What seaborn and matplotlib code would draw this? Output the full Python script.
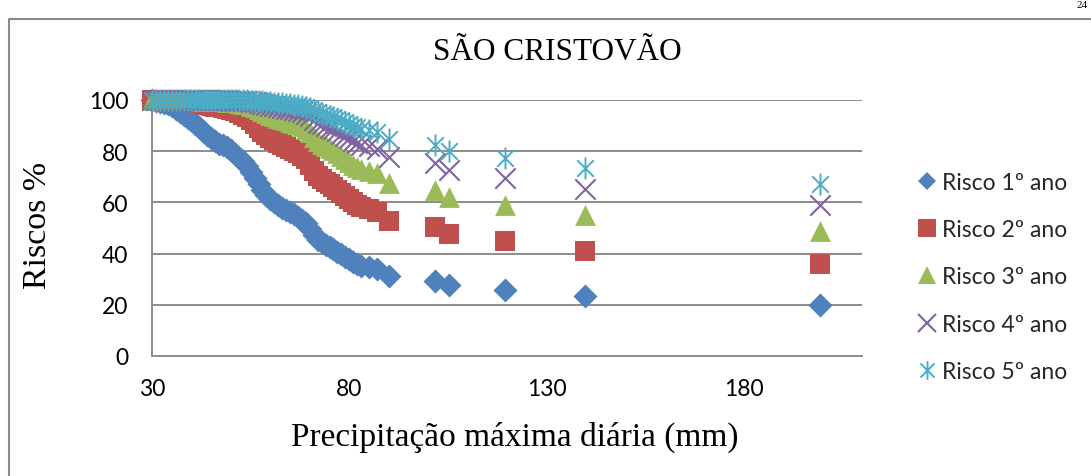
import matplotlib
matplotlib.use("Agg")
import matplotlib.pyplot as plt
from matplotlib.path import Path
from matplotlib.lines import Line2D
import numpy as np
import pandas as pd
import seaborn as sns

# Precipitação máxima diária (mm)
precip = [30, 31, 32, 33, 34, 35, 36, 37, 38, 39, 40, 41, 42, 43, 44, 45, 46, 47, 48, 49,
          50, 51, 52, 53, 54, 55, 56, 57, 58, 59, 60, 61, 62, 63, 64, 65, 66, 67, 68, 69,
          70, 71, 72, 73, 74, 75, 76, 77, 78, 79, 80, 81, 82, 83, 85, 87, 90,
          101.8, 105.4, 119.6, 139.7, 199.3]

# Riscos (%) para 1 a 5 anos
risco_1 = [99.9, 99.7, 99.4, 99.0, 98.4, 97.6, 96.6, 95.4, 94.2, 93.0, 92.0, 90.8, 89.5, 88.0,
           86.4, 85.0, 83.8, 83.0, 82.3, 81.5, 80.3, 79.0, 77.5, 76.0, 74.3, 72.0, 69.5, 67.0,
           64.8, 63.0, 61.5, 60.3, 59.0, 58.0, 57.0, 56.2, 55.3, 54.4, 53.3, 51.8, 49.8, 47.3,
           45.5, 44.5, 43.5, 42.6, 41.8, 40.8, 39.8, 38.8, 37.8, 36.8, 36.0, 35.3, 34.8, 34.0,
           31.3, 29.4, 27.6, 25.7, 23.3, 20.0]
risco_2 = [100.0, 100.0, 100.0, 100.0, 100.0, 99.9, 99.9, 99.8, 99.7, 99.5, 99.4, 99.2, 98.9,
           98.6, 98.2, 97.8, 97.4, 97.1, 96.9, 96.6, 96.1, 95.6, 94.9, 94.2, 93.4, 92.2, 90.7,
           89.1, 87.6, 86.3, 85.2, 84.2, 83.2, 82.4, 81.5, 80.8, 80.0, 79.2, 78.2, 76.8, 74.8,
           72.2, 70.3, 69.2, 68.1, 67.1, 66.1, 65.0, 63.8, 62.6, 61.3, 60.1, 59.0, 58.1, 57.5,
           56.4, 52.8, 50.2, 47.6, 44.8, 41.2, 36.0]
risco_3 = [100.0, 100.0, 100.0, 100.0, 100.0, 100.0, 100.0, 100.0, 100.0, 100.0, 99.9, 99.9,
           99.9, 99.8, 99.8, 99.7, 99.6, 99.5, 99.5, 99.4, 99.2, 99.1, 98.9, 98.6, 98.3, 97.8,
           97.2, 96.4, 95.6, 94.9, 94.3, 93.7, 93.1, 92.6, 92.1, 91.6, 91.1, 90.5, 89.8, 88.8,
           87.4, 85.4, 83.8, 82.9, 82.0, 81.1, 80.3, 79.3, 78.2, 77.1, 75.9, 74.8, 73.8, 72.9,
           72.3, 71.3, 67.6, 64.8, 62.1, 59.0, 54.9, 48.8]
risco_4 = [100.0, 100.0, 100.0, 100.0, 100.0, 100.0, 100.0, 100.0, 100.0, 100.0, 100.0, 100.0,
           100.0, 100.0, 100.0, 99.9, 99.9, 99.9, 99.9, 99.9, 99.8, 99.8, 99.7, 99.7, 99.6, 99.4,
           99.1, 98.8, 98.5, 98.1, 97.8, 97.5, 97.2, 96.9, 96.6, 96.3, 96.0, 95.7, 95.2, 94.6,
           93.7, 92.3, 91.2, 90.5, 89.8, 89.1, 88.5, 87.7, 86.9, 86.0, 85.0, 84.1, 83.2, 82.5,
           81.9, 81.0, 77.7, 75.2, 72.5, 69.5, 65.4, 59.0]
risco_5 = [100.0, 100.0, 100.0, 100.0, 100.0, 100.0, 100.0, 100.0, 100.0, 100.0, 100.0, 100.0,
           100.0, 100.0, 100.0, 100.0, 100.0, 100.0, 100.0, 100.0, 100.0, 100.0, 99.9, 99.9,
           99.9, 99.8, 99.7, 99.6, 99.5, 99.3, 99.2, 99.0, 98.8, 98.7, 98.5, 98.4, 98.2, 98.0,
           97.8, 97.4, 96.8, 95.9, 95.2, 94.7, 94.2, 93.8, 93.3, 92.7, 92.1, 91.4, 90.7, 89.9,
           89.3, 88.7, 88.2, 87.5, 84.7, 82.5, 80.1, 77.4, 73.5, 67.2]

series_names = ["Risco 1º ano", "Risco 2º ano", "Risco 3º ano", "Risco 4º ano", "Risco 5º ano"]
series_values = [risco_1, risco_2, risco_3, risco_4, risco_5]

title = "SÃO CRISTOVÃO"
x_label = "Precipitação máxima diária (mm)"
y_label = "Riscos %"
x_ticks = [30, 80, 130, 180]
y_ticks = [0, 20, 40, 60, 80, 100]
page_number = "24"

df = pd.concat(
    [pd.DataFrame({"precip": precip, "risco": vals, "serie": name})
     for name, vals in zip(series_names, series_values)],
    ignore_index=True,
)

# Asterisk marker: vertical bar plus an X
star_path = Path(
    [(0, -1), (0, 1), (-0.75, -0.75), (0.75, 0.75), (-0.75, 0.75), (0.75, -0.75)],
    [Path.MOVETO, Path.LINETO, Path.MOVETO, Path.LINETO, Path.MOVETO, Path.LINETO],
)

colors = ["#4F81BD", "#C0504D", "#9BBB59", "#8064A2", "#4BACC6"]
markers = ["D", "s", "^", "x", star_path]
sizes = [150, 205, 225, 215, 250]
line_widths = [0, 0, 0, 1.5, 1.4]
legend_ms = [9.0, 12.5, 13.0, 13.0, 13.5]

sns.set_style("white")
serif = ["Liberation Serif", "DejaVu Serif"]
sans = ["Lato", "DejaVu Sans"]

W, H = 1091, 477
fig = plt.figure(figsize=(W / 100, H / 100), dpi=100)
fig.patch.set_facecolor("white")

ax_left, ax_right, ax_bottom, ax_top = 152, 862, 357, 101
ax = fig.add_axes([ax_left / W, 1 - ax_bottom / H,
                   (ax_right - ax_left) / W, (ax_bottom - ax_top) / H])

for i, name in enumerate(series_names):
    sub = df[df["serie"] == name]
    sns.scatterplot(
        data=sub, x="precip", y="risco", ax=ax,
        marker=markers[i], color=colors[i], edgecolor=colors[i],
        s=sizes[i], linewidth=line_widths[i], clip_on=False,
        zorder=3 + i, legend=False,
    )

ax.set_xlim(30, 210)
ax.set_ylim(0, 100)
ax.set_xticks(x_ticks)
ax.set_yticks(y_ticks)

grid_gray = "#8c8c8c"
ax.yaxis.grid(True, color=grid_gray, linewidth=1.4)
ax.xaxis.grid(False)
ax.set_axisbelow(True)
for side in ["top", "right"]:
    ax.spines[side].set_visible(False)
for side in ["left", "bottom"]:
    ax.spines[side].set_color(grid_gray)
    ax.spines[side].set_linewidth(1.4)

ax.tick_params(axis="both", direction="out", length=5, width=1.4, color=grid_gray,
               labelsize=16.5, labelcolor="black")
ax.tick_params(axis="y", pad=12)
ax.tick_params(axis="x", pad=11)
for lab in ax.get_xticklabels() + ax.get_yticklabels():
    lab.set_fontfamily(sans)

ax.set_xlabel(x_label, fontfamily=serif, fontsize=24, color="black")
ax.set_ylabel(y_label, fontfamily=serif, fontsize=24.5, color="black")
ax.xaxis.set_label_coords((515 - ax_left) / (ax_right - ax_left),
                          (ax_bottom - 437) / (ax_bottom - ax_top))
ax.xaxis.label.set_va("center")
ax.yaxis.set_label_coords((38 - ax_left) / (ax_right - ax_left),
                          (ax_bottom - 225) / (ax_bottom - ax_top))
ax.yaxis.label.set_va("center")
ax.yaxis.label.set_ha("center")

fig.text(557 / W, 1 - 52 / H, title, fontfamily=serif, fontsize=22.5,
         ha="center", va="center", color="black")

# Legend
handles = [
    Line2D([], [], linestyle="none", marker=markers[i], color=colors[i],
           markeredgecolor=colors[i], markerfacecolor=colors[i],
           markersize=legend_ms[i], markeredgewidth=line_widths[i])
    for i in range(len(series_names))
]
leg = ax.legend(
    handles, series_names, loc="center left",
    bbox_to_anchor=(918 / W, 1 - 278 / H), bbox_transform=fig.transFigure,
    frameon=False, borderpad=0, borderaxespad=0, handlelength=0.75,
    handletextpad=0.3, labelspacing=1.15, prop={"family": sans, "size": 16.5},
)

# Outer frame
frame_gray = "#8a8a8a"
fig.add_artist(Line2D([9 / W, 9 / W, 1.0], [0.0, 1 - 20 / H, 1 - 20 / H],
                      transform=fig.transFigure, color=frame_gray, linewidth=1.5))

# Page number in the top corner
fig.text(1088 / W, 1 - 1 / H, page_number, fontfamily=serif, fontsize=8,
         ha="right", va="top", color="black")

fig.savefig("out.png", dpi=100, facecolor="white")
